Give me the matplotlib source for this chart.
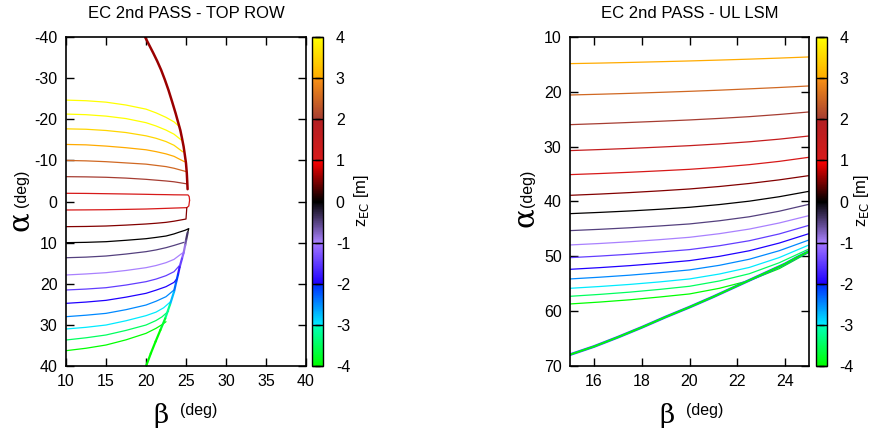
import numpy as np
import matplotlib
matplotlib.use("Agg")
import matplotlib.pyplot as plt
from matplotlib.colors import LinearSegmentedColormap, Normalize
from matplotlib.collections import LineCollection
import matplotlib.cm as cm

plt.rcParams['font.family'] = ['Liberation Sans', 'DejaVu Sans']
plt.rcParams['axes.unicode_minus'] = False

# ---------------- data: left panel (TOP ROW) ----------------
left_title = "EC 2nd PASS - TOP ROW"
left_z = [4.5, 4.0, 3.5, 3.0, 2.5, 2.0, 1.0, 1.0, 0.5, 0.0,
          -0.5, -1.0, -1.5, -2.0, -2.5, -3.0, -3.5, -4.0]
grid_b = [10, 12.5, 15, 17.5, 20, 21.25, 22.5, 23.5]
left_beta = [
    grid_b + [24.2],
    grid_b + [24.4],
    grid_b + [24.6],
    grid_b + [24.8],
    grid_b + [25.0],
    grid_b + [25.1],
    grid_b + [25.25, 25.4, 25.45],
    grid_b + [25.1, 25.35, 25.45],
    grid_b + [25.0, 25.1],
    grid_b + [24.1, 24.9, 25.35, 25.2],
    grid_b + [24.75],
    grid_b + [24.5],
    grid_b + [24.17],
    grid_b + [23.9],
    [10, 12.5, 15, 17.5, 20, 21.25, 22.5, 23.5],
    [10, 12.5, 15, 17.5, 20, 21.25, 22.2, 23.17],
    [10, 12.5, 15, 17.5, 20, 21.25, 22.0, 22.83],
    [10, 12.5, 15, 17.5, 20, 21.25, 22.0, 22.5],
]
left_alpha = [
    [-24.7, -24.55, -24.2, -23.5, -22.5, -21.6, -20.5, -19.4, -18.2],
    [-21.3, -21.15, -20.8, -20.2, -19.2, -18.4, -17.4, -16.4, -15.0],
    [-17.7, -17.6, -17.3, -16.8, -16.0, -15.4, -14.6, -13.7, -12.1],
    [-13.9, -13.8, -13.5, -13.1, -12.6, -12.15, -11.6, -11.0, -9.7],
    [-10.0, -9.9, -9.7, -9.4, -9.1, -8.8, -8.5, -8.1, -7.3],
    [-6.05, -6.0, -5.9, -5.7, -5.4, -5.2, -5.0, -4.8, -4.3],
    [-2.0, -1.97, -1.9, -1.83, -1.75, -1.7, -1.67, -1.63, -1.6, -1.2, -0.3],
    [2.07, 2.04, 2.0, 1.92, 1.83, 1.75, 1.67, 1.6, 1.5, 1.1, -0.3],
    [6.13, 6.08, 5.97, 5.75, 5.48, 5.3, 5.08, 4.8, 4.27, 1.5],
    [10.03, 9.95, 9.79, 9.45, 9.06, 8.75, 8.41, 7.9, 7.5, 7.0, 6.6, 7.6],
    [13.7, 13.55, 13.28, 12.8, 12.22, 11.8, 11.25, 10.7, 9.95],
    [17.9, 17.65, 17.34, 16.8, 16.12, 15.6, 14.9, 14.1, 12.63],
    [21.56, 21.33, 21.0, 20.35, 19.53, 18.9, 18.07, 17.1, 15.63],
    [24.81, 24.5, 24.08, 23.3, 22.37, 21.6, 20.75, 19.7, 18.72],
    [28.06, 27.7, 27.25, 26.35, 25.22, 24.3, 23.19, 21.56],
    [31.06, 30.65, 30.09, 29.05, 27.81, 26.95, 25.9, 24.24],
    [33.74, 33.2, 32.52, 31.4, 30.09, 29.0, 28.1, 26.68],
    [36.34, 35.75, 34.96, 33.7, 32.12, 30.9, 30.0, 29.28],
]
upper_edge_beta = [19.9, 20.4, 20.9, 21.4, 21.9, 22.35, 22.8, 23.25, 23.7, 24.0,
                   24.3, 24.5, 24.7, 24.85, 25.0, 25.1, 25.15, 25.2]
upper_edge_alpha = [-40, -38.1, -36.2, -34.2, -32.0, -29.7, -27.2, -24.4, -21.5,
                    -19.4, -17.3, -15.4, -13.4, -11.4, -9.3, -6.9, -5.0, -3.0]
upper_edge_z = 0.6
lower_edge_beta = [25.2, 25.0, 24.9, 24.7, 24.5, 24.2, 24.0, 23.75, 23.5, 23.0,
                   22.4, 21.8, 21.2, 20.6, 20.05]
lower_edge_alpha = [7.6, 9.5, 10.6, 12.5, 13.9, 16.0, 17.8, 19.8, 22.0, 25.1,
                    28.5, 31.3, 34.1, 37.0, 39.9]
lower_edge_z = [-0.3, -0.5, -0.8, -1.0, -1.3, -1.6, -2.0, -2.2, -2.5, -3.0,
                -3.5, -4.0, -4.0, -4.0, -4.0]

# ---------------- data: right panel (UL LSM) ----------------
right_title = "EC 2nd PASS - UL LSM"
right_z = [3.0, 2.5, 2.0, 1.5, 1.0, 0.5, 0.0, -0.5, -1.0, -1.5,
           -2.0, -2.5, -3.0, -3.5, -4.0]
right_beta = [15, 16.25, 17.5, 18.75, 20, 21.25, 22.5, 23.75, 25]
right_alpha = [
    [14.81, 14.71, 14.59, 14.46, 14.32, 14.16, 13.99, 13.80, 13.59],
    [20.54, 20.40, 20.24, 20.06, 19.87, 19.66, 19.42, 19.17, 18.89],
    [25.96, 25.77, 25.56, 25.34, 25.10, 24.82, 24.50, 24.10, 23.64],
    [30.70, 30.51, 30.30, 30.06, 29.80, 29.48, 29.09, 28.61, 28.03],
    [35.09, 34.89, 34.66, 34.40, 34.12, 33.74, 33.27, 32.67, 31.92],
    [38.87, 38.64, 38.37, 38.06, 37.71, 37.26, 36.71, 36.05, 35.27],
    [42.22, 41.99, 41.73, 41.42, 41.06, 40.56, 39.94, 39.13, 38.14],
    [45.32, 45.08, 44.80, 44.47, 44.10, 43.52, 42.79, 41.78, 40.51],
    [47.94, 47.67, 47.35, 46.97, 46.54, 45.88, 45.04, 43.93, 42.58],
    [50.26, 49.97, 49.63, 49.23, 48.79, 48.08, 47.17, 45.93, 44.35],
    [52.39, 52.08, 51.72, 51.29, 50.80, 50.02, 49.00, 47.60, 45.87],
    [54.15, 53.83, 53.46, 53.01, 52.50, 51.66, 50.55, 49.00, 47.03],
    [55.86, 55.53, 55.15, 54.69, 54.15, 53.25, 52.05, 50.25, 47.94],
    [57.32, 56.97, 56.56, 56.06, 55.49, 54.52, 53.20, 51.20, 48.67],
    [58.72, 58.37, 57.96, 57.45, 56.89, 55.86, 54.45, 52.28, 49.28],
]
right_edge_beta = [15, 16, 17, 18, 19, 20, 21, 22, 23, 24, 24.5, 25]
right_edge_alpha = [67.98, 66.5, 64.8, 63.0, 61.1, 59.3, 57.4, 55.4, 53.4, 51.4,
                    50.2, 49.1]
right_edge_z = -4.0

cbar_ticks = [-4, -3, -2, -1, 0, 1, 2, 3, 4]
cbar_label = r"z$_{\rm EC}$ [m]"

# ---------------- colormap (piecewise, with steps at integers) ----------------
pal_z = [-4, -3, -2, -1, 0, 1, 2, 3, 4]
pal_lo = [(0, 255, 0), (0, 255, 190), (0, 40, 255), (165, 120, 255), (0, 0, 0),
          (255, 0, 0), (178, 32, 35), (248, 145, 20), (255, 255, 0)]
pal_hi = [(0, 255, 0), (0, 235, 255), (30, 0, 255), (170, 130, 255), (0, 0, 0),
          (215, 25, 25), (165, 60, 50), (255, 170, 0), (255, 255, 0)]
cdict = {}
for ci, ch in enumerate(['red', 'green', 'blue']):
    cdict[ch] = [((z - pal_z[0]) / (pal_z[-1] - pal_z[0]), lo[ci] / 255, hi[ci] / 255)
                 for z, lo, hi in zip(pal_z, pal_lo, pal_hi)]
cmap = LinearSegmentedColormap('ec', cdict, N=512)
norm = Normalize(vmin=-4, vmax=4)


def col(z):
    return cmap(norm(np.clip(z, -4, 4)))


def colored_path(ax, xs, ys, zs, lw):
    pts = np.column_stack([xs, ys])
    segs = np.stack([pts[:-1], pts[1:]], axis=1)
    zmid = 0.5 * (np.asarray(zs[:-1]) + np.asarray(zs[1:]))
    lc = LineCollection(segs, colors=[col(z) for z in zmid], linewidths=lw,
                        capstyle='round', joinstyle='round')
    ax.add_collection(lc)


fig = plt.figure(figsize=(8.71, 4.32), dpi=100)
axL = fig.add_axes([66 / 871, 1 - 365.7 / 432, 240 / 871, 328.4 / 432])
caxL = fig.add_axes([312 / 871, 1 - 365.7 / 432, 11.3 / 871, 328.4 / 432])
axR = fig.add_axes([570 / 871, 1 - 365.7 / 432, 239 / 871, 328.4 / 432])
caxR = fig.add_axes([815.7 / 871, 1 - 365.7 / 432, 11.3 / 871, 328.4 / 432])

# left panel lines
for z, bx, ay in zip(left_z, left_beta, left_alpha):
    axL.plot(bx, ay, color=col(z), lw=0.9, solid_capstyle='round',
             solid_joinstyle='round')
colored_path(axL, lower_edge_beta, lower_edge_alpha, lower_edge_z, 1.6)
axL.plot(upper_edge_beta, upper_edge_alpha, color=col(upper_edge_z), lw=1.8,
         solid_capstyle='round', solid_joinstyle='round')
axL.set_xlim(10, 40)
axL.set_ylim(40, -40)
axL.set_xticks([10, 15, 20, 25, 30, 35, 40])
axL.set_yticks([-40, -30, -20, -10, 0, 10, 20, 30, 40])

# right panel lines
for z, ay in zip(right_z, right_alpha):
    axR.plot(right_beta, ay, color=col(z), lw=0.9, solid_joinstyle='round')
axR.plot(right_edge_beta, right_edge_alpha, color=(0.2, 0.3, 1.0), lw=2.0)
axR.plot(right_edge_beta, right_edge_alpha, color=col(right_edge_z), lw=1.3)
axR.set_xlim(15, 25)
axR.set_ylim(70, 10)
axR.set_xticks([16, 18, 20, 22, 24])
axR.set_yticks([10, 20, 30, 40, 50, 60, 70])

for ax, title in [(axL, left_title), (axR, right_title)]:
    ax.tick_params(direction='in', length=6, width=1.0, top=True, right=True,
                   labelsize=11.5, pad=6, colors='black')
    for sp in ax.spines.values():
        sp.set_linewidth(1.2)
    ax.set_title(title, fontsize=12, pad=14)

# axis labels (alpha/beta in larger serif glyphs)
fig.text(161 / 871, 1 - 416 / 432, "β", fontsize=19, family='DejaVu Serif',
         ha='center', va='center')
fig.text(199 / 871, 1 - 411 / 432, "(deg)", fontsize=11.5, ha='center', va='center')
fig.text(667 / 871, 1 - 416 / 432, "β", fontsize=19, family='DejaVu Serif',
         ha='center', va='center')
fig.text(705 / 871, 1 - 411 / 432, "(deg)", fontsize=11.5, ha='center', va='center')
fig.text(20 / 871, 1 - 221 / 432, "α", fontsize=21, family='DejaVu Serif',
         ha='center', va='center', rotation=90)
fig.text(22 / 871, 1 - 188 / 432, "(deg)", fontsize=11.5, ha='center', va='center',
         rotation=90)
fig.text(525 / 871, 1 - 217 / 432, "α", fontsize=21, family='DejaVu Serif',
         ha='center', va='center', rotation=90)
fig.text(527 / 871, 1 - 188 / 432, "(deg)", fontsize=11.5, ha='center', va='center',
         rotation=90)

sm = cm.ScalarMappable(norm=norm, cmap=cmap)
for cax, labx in [(caxL, 361), (caxR, 861)]:
    cb = fig.colorbar(sm, cax=cax, ticks=cbar_ticks)
    cb.outline.set_linewidth(1.0)
    cax.tick_params(direction='in', length=5.5, width=1.0, left=True, right=True,
                    labelsize=11.5, pad=9)
    cax.set_ylabel("")
    fig.text(labx / 871, 1 - 201 / 432, cbar_label, fontsize=12, rotation=90,
             ha='center', va='center')

fig.savefig("out.png", dpi=100)
